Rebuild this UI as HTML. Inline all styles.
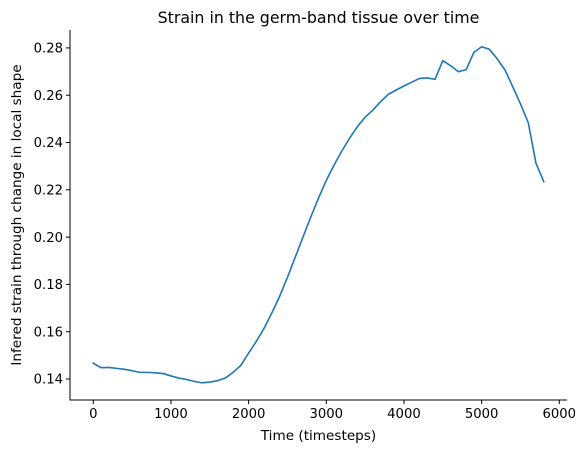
<!DOCTYPE html>
<html><head><meta charset="utf-8"><style>
html,body{margin:0;padding:0;background:#fff;}
svg{display:block;font-family:"DejaVu Sans","Liberation Sans",sans-serif;}
</style></head><body>
<svg id="chart" width="587" height="453" viewBox="0 0 587 453" xmlns="http://www.w3.org/2000/svg">
<text x="318.5" y="23" text-anchor="middle" font-size="15.8" fill="#000">Strain in the germ-band tissue over time</text>
<g id="axes"></g>
<text x="318.5" y="440" text-anchor="middle" font-size="13.6" fill="#000">Time (timesteps)</text>
<text transform="translate(21,215) rotate(-90)" text-anchor="middle" font-size="13.6" fill="#000">Infered strain through change in local shape</text>
</svg>
<script>
const timesteps = [0,100,200,300,400,500,600,700,800,900,1000,1100,1200,1300,1400,1500,1600,1700,1800,1900,2000,2100,2200,2300,2400,2500,2600,2700,2800,2900,3000,3100,3200,3300,3400,3500,3600,3700,3800,3900,4000,4100,4200,4300,4400,4500,4600,4700,4800,4900,5000,5100,5200,5300,5400,5500,5600,5700,5800];
const strain = [0.1467,0.1448,0.1449,0.1445,0.1441,0.1435,0.1428,0.1428,0.1426,0.1423,0.1413,0.1404,0.1398,0.1390,0.1384,0.1387,0.1393,0.1404,0.1428,0.1458,0.1510,0.1560,0.1615,0.1680,0.1750,0.1830,0.1915,0.2000,0.2085,0.2165,0.2240,0.2305,0.2364,0.2418,0.2467,0.2507,0.2537,0.2573,0.2604,0.2622,0.2639,0.2655,0.2671,0.2673,0.2667,0.2746,0.2725,0.2699,0.2708,0.2781,0.2805,0.2794,0.2754,0.2707,0.2636,0.2563,0.2484,0.2312,0.2234];
const xTicks = [0,1000,2000,3000,4000,5000,6000];
const yTicks = [0.14,0.16,0.18,0.20,0.22,0.24,0.26,0.28];
const yTickLabels = ["0.14","0.16","0.18","0.20","0.22","0.24","0.26","0.28"];

const NS="http://www.w3.org/2000/svg";
const X0=70, X1=567, Y0=30, Y1=400;
function xs(v){return 93.3 + v*0.077667;}
function ys(v){return 379 - (v-0.14)/0.02*47.3;}
const g=document.getElementById('axes');
function mk(tag,attrs){const e=document.createElementNS(NS,tag);for(const k in attrs)e.setAttribute(k,attrs[k]);g.appendChild(e);return e;}

const ls=mk('line',{x1:X0,y1:Y0,x2:X0,y2:Y1+0.5,stroke:'#000','stroke-width':1});


const bs=mk('line',{x1:X0-0.5,y1:Y1,x2:X1,y2:Y1,stroke:'#000','stroke-width':1});



xTicks.forEach(t=>{
  const x=xs(t);
  const tk=mk('line',{x1:x,y1:Y1,x2:x,y2:Y1+4,stroke:'#000','stroke-width':1});
  
  
  const tx=mk('text',{x:x,y:Y1+18,'text-anchor':'middle','font-size':13.2,fill:'#000'});
  tx.textContent=String(t);
  
  
});
yTicks.forEach((t,i)=>{
  const y=ys(t);
  const tk=mk('line',{x1:X0-4,y1:y,x2:X0,y2:y,stroke:'#000','stroke-width':1});
  
  
  const tx=mk('text',{x:X0-7,y:y+4.7,'text-anchor':'end','font-size':13.2,fill:'#000'});
  tx.textContent=yTickLabels[i];
  
  
});
const pts=timesteps.map((t,i)=>xs(t).toFixed(2)+','+ys(strain[i]).toFixed(2)).join(' ');
const line=mk('polyline',{points:pts,fill:'none',stroke:'#1f77b4','stroke-width':1.6,'stroke-linejoin':'round','stroke-linecap':'square'});


</script>
</body></html>
